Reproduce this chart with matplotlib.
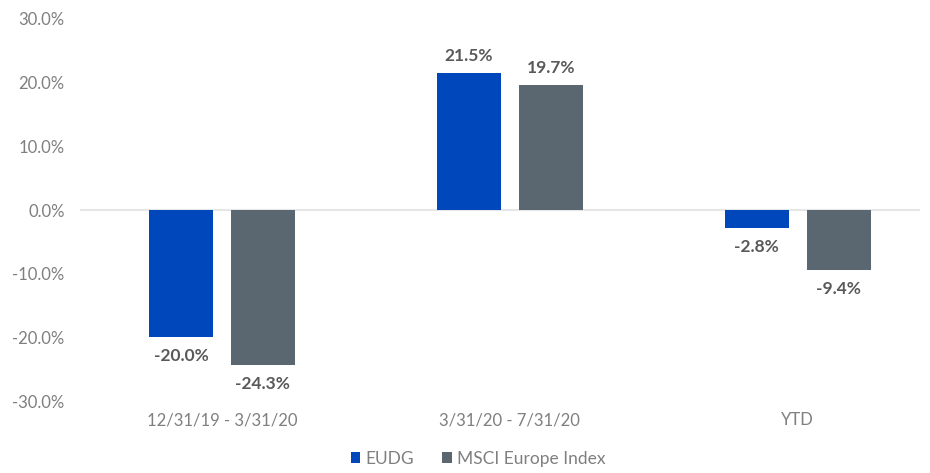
import numpy as np
import matplotlib.pyplot as plt

plt.rcParams['font.family'] = ['Lato', 'DejaVu Sans']

periods = ["12/31/19 - 3/31/20", "3/31/20 - 7/31/20", "YTD"]
eudg = [-20.0, 21.5, -2.8]
msci = [-24.3, 19.7, -9.4]
series_names = ["EUDG", "MSCI Europe Index"]
yticks = [-30, -20, -10, 0, 10, 20, 30]

blue = "#0047BB"
grey = "#5B6770"

fig = plt.figure(figsize=(9.3, 4.73), dpi=100)
ax = fig.add_axes([0.086, 0.152, 0.903, 0.808])

x = np.arange(len(periods))
w = 0.222
b1 = ax.bar(x - 0.142, eudg, w, color=blue, label=series_names[0])
b2 = ax.bar(x + 0.142, msci, w, color=grey, label=series_names[1])

# value labels above/below each bar
for bars, vals in [(b1, eudg), (b2, msci)]:
    for bar, v in zip(bars, vals):
        cx = bar.get_x() + bar.get_width() / 2
        off = 17 if v > 0 else -19
        ax.annotate(f"{v:.1f}%", (cx, v), xytext=(0, off), textcoords="offset pixels",
                    ha="center", va="center", fontsize=12.5, fontweight="bold", color="#595959")

ax.set_ylim(-30, 30)
ax.set_xlim(-0.493, 2.424)
ax.set_yticks(yticks)
ax.set_yticklabels([f"{t:.1f}%" for t in yticks])
ax.set_xticks(x)
ax.set_xticklabels(periods)
ax.axhline(0, color="#e6e6e6", lw=1.5, zorder=0)

for s in ax.spines.values():
    s.set_visible(False)
ax.tick_params(length=0, labelsize=12, labelcolor="#7f7f7f")
ax.tick_params(axis="y", pad=11)
ax.tick_params(axis="x", pad=8)

fig.legend(loc="center", bbox_to_anchor=(0.514, 0.03), ncol=2, frameon=False,
           handlelength=0.55, handleheight=0.55, handletextpad=0.3, columnspacing=1.6,
           fontsize=12.5, labelcolor="#7f7f7f")

fig.savefig("out.png", dpi=100)
